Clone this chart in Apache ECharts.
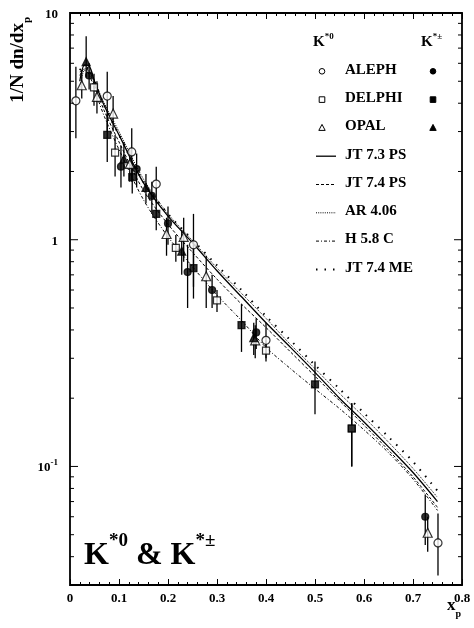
<!DOCTYPE html>
<html>
<head>
<meta charset="utf-8">
<script src="https://cdn.jsdelivr.net/npm/echarts@6/dist/echarts.min.js"></script>
<style>
html, body { margin: 0; padding: 0; background: #fff; }
#chart { width: 474px; height: 628px; }
</style>
</head>
<body>
<div id="chart"></div>
<script>
// data rows: [x_p, value, errLow, errHigh]
const alephK0 = [[0.012, 4.1, 2.8, 5.8], [0.076, 4.3, 3.0, 5.5], [0.126, 2.44, 1.8, 3.1], [0.176, 1.76, 1.45, 2.1],
  [0.252, 0.95, 0.62, 1.3], [0.40, 0.36, 0.30, 0.43], [0.751, 0.046, 0.033, 0.062]];
const alephKc = [[0.039, 5.3, 4.6, 6.0], [0.104, 2.1, 1.7, 2.6], [0.136, 2.05, 1.7, 2.4], [0.167, 1.56, 1.3, 1.8],
  [0.2, 1.18, 0.95, 1.4], [0.24, 0.72, 0.5, 0.95], [0.29, 0.6, 0.5, 0.7], [0.38, 0.39, 0.33, 0.45], [0.725, 0.06, 0.045, 0.075]];
const delphiK0 = [[0.049, 4.7, 3.9, 5.4], [0.092, 2.42, 1.9, 2.9], [0.216, 0.92, 0.8, 1.05], [0.30, 0.54, 0.48, 0.6],
  [0.40, 0.324, 0.29, 0.36], [0.575, 0.147, 0.1, 0.19]];
const delphiKc = [[0.076, 2.9, 2.2, 3.6], [0.127, 1.89, 1.6, 2.2], [0.176, 1.30, 1.1, 1.5], [0.252, 0.75, 0.55, 0.95],
  [0.35, 0.42, 0.32, 0.52], [0.5, 0.23, 0.17, 0.29], [0.575, 0.147, 0.1, 0.19]];
const opalK0 = [[0.024, 4.8, 4.2, 5.6], [0.055, 4.27, 3.6, 5.0], [0.088, 3.6, 3.0, 4.3], [0.122, 2.16, 1.8, 2.5],
  [0.197, 1.06, 0.85, 1.25], [0.232, 1.03, 0.8, 1.25], [0.278, 0.69, 0.5, 0.85], [0.378, 0.36, 0.3, 0.42], [0.73, 0.051, 0.042, 0.06]];
const opalKc = [[0.033, 6.1, 5.2, 7.9], [0.110, 2.27, 1.9, 2.7], [0.155, 1.7, 1.45, 1.95], [0.228, 0.89, 0.7, 1.1],
  [0.375, 0.37, 0.31, 0.43]];

// model curves
const modelX = [0.02, 0.03, 0.04, 0.05, 0.07, 0.1, 0.15, 0.2, 0.25, 0.3, 0.35, 0.4, 0.45, 0.5, 0.55, 0.6, 0.65, 0.7, 0.75];
const jt73ps = [5.0, 5.9, 5.8, 5.0, 3.9, 2.9, 1.78, 1.27, 0.97, 0.73, 0.56, 0.43, 0.335, 0.26, 0.2, 0.157, 0.122, 0.094, 0.07];
const jt74ps = [5.3, 5.7, 5.5, 4.8, 3.7, 2.7, 1.65, 1.17, 0.88, 0.67, 0.52, 0.41, 0.32, 0.25, 0.195, 0.152, 0.118, 0.09, 0.066];
const ar406 = [4.6, 5.6, 5.6, 5.0, 4.0, 3.0, 1.85, 1.3, 0.99, 0.75, 0.58, 0.45, 0.345, 0.27, 0.21, 0.165, 0.128, 0.098, 0.073];
const h58c = [5.5, 5.6, 5.3, 4.6, 3.5, 2.5, 1.5, 1.03, 0.76, 0.57, 0.44, 0.335, 0.27, 0.22, 0.18, 0.145, 0.115, 0.088, 0.064];
const jt74me = [5.6, 5.8, 5.6, 5.0, 3.9, 2.9, 1.8, 1.3, 1.0, 0.77, 0.6, 0.46, 0.36, 0.28, 0.22, 0.172, 0.135, 0.105, 0.078];

const xTickLabels = ['0', '0.1', '0.2', '0.3', '0.4', '0.5', '0.6', '0.7', '0.8'];
const yMajorTicks = [0.1, 1, 10];
const yMinorTicks = [0.04, 0.05, 0.06, 0.07, 0.08, 0.09, 0.2, 0.3, 0.4, 0.5, 0.6, 0.7, 0.8, 0.9, 2, 3, 4, 5, 6, 7, 8, 9];
const expNames = ['ALEPH', 'DELPHI', 'OPAL'];
const modelNames = ['JT 7.3 PS', 'JT 7.4 PS', 'AR 4.06', 'H 5.8 C', 'JT 7.4 ME'];

const FONT = '"Liberation Serif", "Times New Roman", serif';

const chart = echarts.init(document.getElementById('chart'));

function errorBars(rows) {
  return {
    type: 'custom',
    silent: true,
    clip: false,
    z: 3,
    data: rows.map(r => [r[0], r[2], r[3]]),
    encode: { x: 0, y: [1, 2] },
    renderItem: function (params, api) {
      const a = api.coord([api.value(0), api.value(1)]);
      const b = api.coord([api.value(0), api.value(2)]);
      return { type: 'line', shape: { x1: a[0], y1: a[1], x2: b[0], y2: b[1] }, style: { stroke: '#000', lineWidth: 1.3 } };
    }
  };
}

function points(rows, symbol, filled, size) {
  return {
    type: 'scatter',
    symbol: symbol,
    symbolSize: size,
    z: 5,
    data: rows.map(r => [r[0], r[1]]),
    itemStyle: { color: filled ? '#000' : '#fff', borderColor: '#000', borderWidth: 1.2 }
  };
}

function curve(ys, dash, width) {
  return {
    type: 'line',
    showSymbol: false,
    smooth: 0.3,
    z: 4,
    data: modelX.map((x, i) => [x, ys[i]]),
    lineStyle: { color: '#000', width: width, type: dash }
  };
}

function yTicks(vals, len) {
  return {
    type: 'custom',
    silent: true,
    clip: false,
    z: 6,
    data: vals.map(v => [0, v]),
    renderItem: function (params, api) {
      const cs = params.coordSys;
      const p = api.coord([0, api.value(1)]);
      const st = { stroke: '#000', lineWidth: 1 };
      return {
        type: 'group',
        children: [
          { type: 'line', shape: { x1: cs.x, y1: p[1], x2: cs.x + len, y2: p[1] }, style: st },
          { type: 'line', shape: { x1: cs.x + cs.width, y1: p[1], x2: cs.x + cs.width - len, y2: p[1] }, style: st }
        ]
      };
    }
  };
}

const supRich = {
  b: { fontFamily: FONT, fontWeight: 'bold', fontSize: 15, lineHeight: 18, verticalAlign: 'bottom' },
  s: { fontFamily: FONT, fontWeight: 'bold', fontSize: 9, lineHeight: 18, verticalAlign: 'top', padding: [0, 0, 8, 0] }
};

// legend built as graphic elements
const legendTop = 43, rowH = 28.3;
const legendGraphics = [];
legendGraphics.push({ type: 'text', left: 313, top: legendTop - 11, style: { text: '{b|K}{s|*0}', rich: supRich } });
legendGraphics.push({ type: 'text', left: 421, top: legendTop - 11, style: { text: '{b|K}{s|*±}', rich: supRich } });
const legendSymbols = ['circle', 'rect', 'triangle'];
expNames.forEach((name, i) => {
  const y = legendTop + rowH * (i + 1);
  legendGraphics.push({ type: 'text', left: 345, top: y - 9, style: { text: name, fontFamily: FONT, fontWeight: 'bold', fontSize: 15, fill: '#000' } });
  const sym = legendSymbols[i];
  [[322, false], [433, true]].forEach(([x, filled]) => {
    let shape;
    if (sym === 'circle') shape = { type: 'circle', shape: { cx: x, cy: y, r: 2.8 } };
    else if (sym === 'rect') shape = { type: 'rect', shape: { x: x - 2.8, y: y - 2.8, width: 5.6, height: 5.6 } };
    else shape = { type: 'polygon', shape: { points: [[x, y - 3.5], [x - 3.2, y + 2.5], [x + 3.2, y + 2.5]] } };
    shape.style = { fill: filled ? '#000' : '#fff', stroke: '#000', lineWidth: 1 };
    legendGraphics.push(shape);
  });
});
const legendDash = [null, [3, 2], [1, 1.2], [3, 2, 1, 2], [1.5, 7]];
const legendWidth = [1.3, 1, 1, 1, 2];
modelNames.forEach((name, i) => {
  const y = legendTop + rowH * (i + 4);
  legendGraphics.push({ type: 'text', left: 345, top: y - 9, style: { text: name, fontFamily: FONT, fontWeight: 'bold', fontSize: 15, fill: '#000' } });
  legendGraphics.push({ type: 'line', shape: { x1: 316, y1: y, x2: 336, y2: y }, style: { stroke: '#000', lineWidth: legendWidth[i], lineDash: legendDash[i] } });
});

const option = {
  backgroundColor: '#fff',
  animation: false,
  grid: { left: 70, right: 12, top: 13, bottom: 43, show: true, borderColor: '#000', borderWidth: 1.8, backgroundColor: 'transparent' },
  xAxis: [
    {
      type: 'value', min: 0, max: 0.8, interval: 0.1,
      axisLine: { show: false },
      axisTick: { inside: true, length: 6, lineStyle: { color: '#000', width: 1 } },
      minorTick: { show: true, splitNumber: 5, length: 3, lineStyle: { color: '#000', width: 1 } },
      splitLine: { show: false },
      axisLabel: {
        margin: 7, color: '#000', fontFamily: FONT, fontWeight: 'bold', fontSize: 13,
        formatter: v => xTickLabels[Math.round(v * 10)]
      }
    },
    {
      type: 'value', min: 0, max: 0.8, interval: 0.1, position: 'top',
      axisLine: { show: false },
      axisTick: { inside: true, length: 6, lineStyle: { color: '#000', width: 1 } },
      minorTick: { show: true, splitNumber: 5, length: 3, lineStyle: { color: '#000', width: 1 } },
      splitLine: { show: false },
      axisLabel: { show: false }
    }
  ],
  yAxis: {
    type: 'log', min: 0.03, max: 10, logBase: 10,
    axisLine: { show: false },
    axisTick: { show: false },
    splitLine: { show: false },
    axisLabel: {
      margin: 12, color: '#000',
      formatter: function (v) {
        const l = Math.log10(v);
        const e = Math.round(l);
        if (Math.abs(l - e) > 1e-6) return '';
        if (e === 1) return '{b|10}';
        if (e === 0) return '{b|1}';
        return '{b|10}{s|-1}';
      },
      rich: {
        b: { fontFamily: FONT, fontWeight: 'bold', fontSize: 13, lineHeight: 16, verticalAlign: 'bottom' },
        s: { fontFamily: FONT, fontWeight: 'bold', fontSize: 9, lineHeight: 16, verticalAlign: 'top', padding: [0, 0, 7, 0] }
      }
    }
  },
  graphic: [
    {
      type: 'text', left: 9, top: 17, rotation: Math.PI / 2, originX: 0, originY: 0,
      style: {
        text: '{b|1/N dn/dx}{p|p}',
        rich: {
          b: { fontFamily: FONT, fontWeight: 'bold', fontSize: 19, lineHeight: 24, verticalAlign: 'top' },
          p: { fontFamily: FONT, fontWeight: 'bold', fontSize: 11, lineHeight: 24, verticalAlign: 'bottom', padding: [6, 0, 0, 0] }
        }
      }
    },
    {
      type: 'text', left: 447, top: 597,
      style: {
        text: '{b|x}{p|p}',
        rich: {
          b: { fontFamily: FONT, fontWeight: 'bold', fontSize: 17, lineHeight: 22, verticalAlign: 'top' },
          p: { fontFamily: FONT, fontWeight: 'bold', fontSize: 10, lineHeight: 22, verticalAlign: 'bottom', padding: [6, 0, 0, 0] }
        }
      }
    },
    {
      type: 'text', left: 84, top: 532,
      style: {
        text: '{b|K}{s|*0}{b| & K}{s|*±}',
        rich: {
          b: { fontFamily: FONT, fontWeight: 'bold', fontSize: 32, lineHeight: 40, verticalAlign: 'bottom' },
          s: { fontFamily: FONT, fontWeight: 'bold', fontSize: 19, lineHeight: 40, verticalAlign: 'top', padding: [0, 0, 12, 0] }
        }
      }
    }
  ].concat(legendGraphics),
  series: [
    yTicks(yMajorTicks, 8),
    yTicks(yMinorTicks, 4),
    curve(jt73ps, 'solid', 1.3),
    curve(jt74ps, [3, 2], 1),
    curve(ar406, [1, 1.2], 1),
    curve(h58c, [3, 2, 1, 2], 1),
    curve(jt74me, [1.5, 7], 2),
    errorBars(alephK0), errorBars(alephKc), errorBars(delphiK0),
    errorBars(delphiKc), errorBars(opalK0), errorBars(opalKc),
    points(alephK0, 'circle', false, 8),
    points(alephKc, 'circle', true, 7),
    points(delphiK0, 'rect', false, 7),
    points(delphiKc, 'rect', true, 7),
    points(opalK0, 'triangle', false, 9),
    points(opalKc, 'triangle', true, 8)
  ]
};

chart.setOption(option);
</script>
</body>
</html>
